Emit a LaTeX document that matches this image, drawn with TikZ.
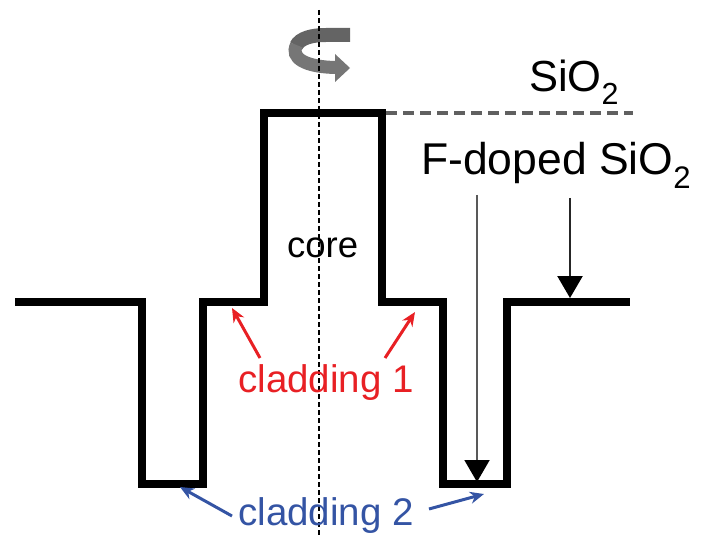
\documentclass[tikz,border=0pt]{standalone}
\usepackage{fontspec}
\setmainfont{Liberation Sans}
\usetikzlibrary{arrows.meta}
\definecolor{cladred}{RGB}{232,32,36}
\definecolor{cladblue}{RGB}{52,84,164}
\definecolor{ribgray}{RGB}{118,118,118}
\definecolor{ribdark}{RGB}{100,100,100}
\tikzset{
  profile/.style={line width=8pt, line join=miter, line cap=butt},
  lbl/.style={inner sep=0pt, anchor=base west},
  redarrow/.style={cladred, line width=3pt, -{Stealth[length=14pt,width=12pt]}},
  bluearrow/.style={cladblue, line width=3pt, -{Stealth[length=14pt,width=12pt]}},
  downarrow/.style={line width=2.5pt, -{Triangle[length=22pt,width=25pt,black]}},
}
\begin{document}
\begin{tikzpicture}[x=1pt,y=-1pt]
\useasboundingbox (0,0) rectangle (706,537);
% index profile
\draw[profile] (15,302) -- (142,302) -- (142,484) -- (203,484) -- (203,302)
  -- (264,302) -- (264,113) -- (382,113) -- (382,302) -- (443,302)
  -- (443,484) -- (507,484) -- (507,302) -- (630,302);
% SiO2 level dashed
\coordinate (sioL) at (386,113);
\coordinate (sioR) at (633,113);
\draw[gray!75!black, line width=4.5pt, dash pattern=on 11pt off 6pt] (sioL) -- (sioR);
% axis
\coordinate (axT) at (319,10);
\coordinate (axB) at (319,537);
% rotation arrow
\draw[ribdark, line width=14pt] (350,35) -- (326,35) .. controls (312,35) and (300,38) .. (296,46);
\draw[ribgray, line width=13pt] (296.5,45) .. controls (290,58) and (305,67) .. (336,67.5);
\fill[ribgray] (335,54) -- (350,68) -- (335,82) -- cycle;
\draw[line width=1.2pt, dash pattern=on 5pt off 3pt] (axT) -- (axB);
% labels
\node[lbl] (sio2) at (529,92) {\fontsize{43.5}{46}\selectfont SiO\textsubscript{2}};
\node[lbl] (fdoped) at (421,175) {\fontsize{44.5}{48}\selectfont F-doped SiO\textsubscript{2}};
\node[lbl] (core) at (287,257) {\fontsize{36.5}{40}\selectfont core};
\node[lbl, text=cladred] (clad1) at (238,392) {\fontsize{38.5}{42}\selectfont cladding 1};
\node[lbl, text=cladblue] (clad2) at (238,525) {\fontsize{38.5}{42}\selectfont cladding 2};
% F-doped arrows
\coordinate (fa1s) at (477,195);
\coordinate (fa1e) at (477,482);
\coordinate (fa2s) at (570,198);
\coordinate (fa2e) at (570,298);
\draw[downarrow, draw=gray!70!black, line width=2pt] (fa1s) -- (fa1e);
\draw[downarrow, draw=black!85] (fa2s) -- (fa2e);
% cladding 1 arrows
\coordinate (c1l) at (232,308);
\coordinate (c1r) at (415,312);
\draw[redarrow] (260,358) -- (c1l);
\draw[redarrow] (385,358) -- (c1r);
% cladding 2 arrows
\coordinate (c2l) at (180,487);
\coordinate (c2r) at (484,494);
\draw[bluearrow] (232,516) -- (c2l);
\draw[bluearrow] (429,509) -- (c2r);
\end{tikzpicture}
\end{document}
